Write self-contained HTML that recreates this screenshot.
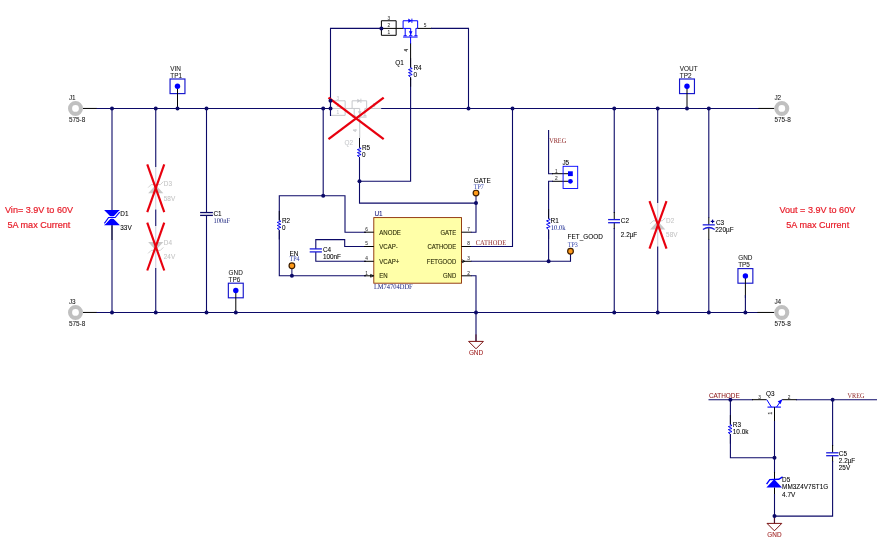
<!DOCTYPE html>
<html lang="en">
<head>
<meta charset="utf-8">
<title>LM74704 reverse polarity protection schematic</title>
<style>
html,body{margin:0;padding:0;background:#ffffff;}
body{width:880px;height:548px;overflow:hidden;}
svg{display:block;will-change:transform;}
.s{font-family:"Liberation Sans",sans-serif;}
.r{font-family:"Liberation Serif",serif;text-rendering:geometricPrecision;}
</style>
</head>
<body>
<svg width="880" height="548" viewBox="0 0 880 548">
<rect x="0" y="0" width="880" height="548" fill="#ffffff"/>
<line x1="83" y1="108.45" x2="97" y2="108.45" stroke="#000000" stroke-width="1.0" />
<line x1="96.5" y1="108.45" x2="330.5" y2="108.45" stroke="#0c0a68" stroke-width="1.1" />
<line x1="381" y1="108.45" x2="759" y2="108.45" stroke="#0c0a68" stroke-width="1.1" />
<line x1="758.5" y1="108.45" x2="774.3" y2="108.45" stroke="#000000" stroke-width="1.0" />
<line x1="83" y1="312.45" x2="97" y2="312.45" stroke="#000000" stroke-width="1.0" />
<line x1="96.5" y1="312.45" x2="758" y2="312.45" stroke="#0c0a68" stroke-width="1.1" />
<line x1="757.5" y1="312.45" x2="774.3" y2="312.45" stroke="#000000" stroke-width="1.0" />
<circle cx="75.5" cy="108.45" r="5.45" fill="none" stroke="#c0c0c0" stroke-width="4.1"/>
<text x="68.9" y="99.95" font-size="6.4" fill="#1a1a1a" stroke="#1a1a1a" stroke-width="0.07" class="s" text-anchor="start" >J1</text>
<text x="68.9" y="122.25" font-size="6.4" fill="#1a1a1a" stroke="#1a1a1a" stroke-width="0.07" class="s" text-anchor="start" >575-8</text>
<circle cx="75.5" cy="312.45" r="5.45" fill="none" stroke="#c0c0c0" stroke-width="4.1"/>
<text x="68.9" y="303.95" font-size="6.4" fill="#1a1a1a" stroke="#1a1a1a" stroke-width="0.07" class="s" text-anchor="start" >J3</text>
<text x="68.9" y="326.25" font-size="6.4" fill="#1a1a1a" stroke="#1a1a1a" stroke-width="0.07" class="s" text-anchor="start" >575-8</text>
<circle cx="781.8" cy="108.45" r="5.45" fill="none" stroke="#c0c0c0" stroke-width="4.1"/>
<text x="774.4" y="99.95" font-size="6.4" fill="#1a1a1a" stroke="#1a1a1a" stroke-width="0.07" class="s" text-anchor="start" >J2</text>
<text x="774.4" y="122.25" font-size="6.4" fill="#1a1a1a" stroke="#1a1a1a" stroke-width="0.07" class="s" text-anchor="start" >575-8</text>
<circle cx="781.8" cy="312.45" r="5.45" fill="none" stroke="#c0c0c0" stroke-width="4.1"/>
<text x="774.4" y="303.95" font-size="6.4" fill="#1a1a1a" stroke="#1a1a1a" stroke-width="0.07" class="s" text-anchor="start" >J4</text>
<text x="774.4" y="326.25" font-size="6.4" fill="#1a1a1a" stroke="#1a1a1a" stroke-width="0.07" class="s" text-anchor="start" >575-8</text>
<line x1="112" y1="108.45" x2="112" y2="312.45" stroke="#0c0a68" stroke-width="1.1" />
<line x1="112" y1="225.2" x2="112" y2="240" stroke="#202040" stroke-width="1.1" />
<polygon points="104.1,210.1 119.9,210.1 112,217.9" fill="#0000ff"/>
<polygon points="104.1,225.3 119.9,225.3 112,217.3" fill="#0000ff"/>
<polyline points="104.4,223.4 108.6,217.5 115.2,217.5 119.7,212.2" stroke="#ffffff" stroke-width="2.6" fill="none"/>
<polyline points="104.4,223.4 108.6,217.5 115.2,217.5 119.7,212.2" stroke="#0000ff" stroke-width="1.1" fill="none"/>
<text x="120.3" y="215.8" font-size="6.4" fill="#000000" stroke="#000000" stroke-width="0.07" class="s" text-anchor="start" >D1</text>
<text x="120.3" y="230.3" font-size="6.4" fill="#000000" stroke="#000000" stroke-width="0.07" class="s" text-anchor="start" >33V</text>
<line x1="155.75" y1="108.45" x2="155.75" y2="167" stroke="#0c0a68" stroke-width="1.1" />
<line x1="155.75" y1="167" x2="155.75" y2="209.5" stroke="#d0d0e0" stroke-width="1.1" />
<line x1="155.75" y1="209.5" x2="155.75" y2="226" stroke="#0c0a68" stroke-width="1.1" />
<line x1="155.75" y1="226" x2="155.75" y2="268" stroke="#d0d0e0" stroke-width="1.1" />
<line x1="155.75" y1="268" x2="155.75" y2="312.45" stroke="#0c0a68" stroke-width="1.1" />
<polygon points="148.15,193.3 163.35,193.3 155.75,185" fill="#c8c8c8"/>
<polyline points="148.15,187.6 151.15,184.6 160.35,184.6 163.35,181.6" stroke="#c8c8c8" stroke-width="0.9" fill="none" />
<text x="163.8" y="185.9" font-size="6.4" fill="#c4c4c4" stroke="#c4c4c4" stroke-width="0.07" class="s" text-anchor="start" >D3</text>
<text x="163.8" y="201" font-size="6.4" fill="#c4c4c4" stroke="#c4c4c4" stroke-width="0.07" class="s" text-anchor="start" >58V</text>
<polygon points="148.15,242 163.35,242 155.75,250.2" fill="#c8c8c8"/>
<polyline points="148.15,253.4 151.15,250.4 160.35,250.4 163.35,247.4" stroke="#c8c8c8" stroke-width="0.9" fill="none" />
<text x="163.8" y="244.7" font-size="6.4" fill="#c4c4c4" stroke="#c4c4c4" stroke-width="0.07" class="s" text-anchor="start" >D4</text>
<text x="163.8" y="258.5" font-size="6.4" fill="#c4c4c4" stroke="#c4c4c4" stroke-width="0.07" class="s" text-anchor="start" >24V</text>
<line x1="147.25" y1="164.4" x2="164.25" y2="212.20000000000002" stroke="#e8000e" stroke-width="2.15" stroke-linecap="butt"/>
<line x1="164.25" y1="164.4" x2="147.25" y2="212.20000000000002" stroke="#e8000e" stroke-width="2.15" stroke-linecap="butt"/>
<line x1="147.25" y1="222.7" x2="164.25" y2="270.5" stroke="#e8000e" stroke-width="2.15" stroke-linecap="butt"/>
<line x1="164.25" y1="222.7" x2="147.25" y2="270.5" stroke="#e8000e" stroke-width="2.15" stroke-linecap="butt"/>
<line x1="206.5" y1="108.45" x2="206.5" y2="212.6" stroke="#0c0a68" stroke-width="1.1" />
<line x1="206.5" y1="215.3" x2="206.5" y2="312.45" stroke="#0c0a68" stroke-width="1.1" />
<line x1="200.1" y1="212.55" x2="212.9" y2="212.55" stroke="#0c0a68" stroke-width="1.3" />
<line x1="200.1" y1="215.4" x2="212.9" y2="215.4" stroke="#0c0a68" stroke-width="1.3" />
<text x="213.4" y="215.9" font-size="6.4" fill="#000000" stroke="#000000" stroke-width="0.07" class="s" text-anchor="start" >C1</text>
<text x="213.4" y="222.8" font-size="7.3" fill="#18207c" stroke="#18207c" stroke-width="0" class="r" text-anchor="start" textLength="16.6" lengthAdjust="spacingAndGlyphs">100nF</text>
<rect x="170.05" y="79.0" width="14.9" height="14.6" fill="none" stroke="#1616cc" stroke-width="1.15"/>
<line x1="177.5" y1="86.3" x2="177.5" y2="108.3" stroke="#000000" stroke-width="1.0" />
<circle cx="177.5" cy="86.3" r="2.7" fill="#0000ff"/>
<text x="170.3" y="70.7" font-size="6.4" fill="#1a1a1a" stroke="#1a1a1a" stroke-width="0.07" class="s" text-anchor="start" >VIN</text>
<text x="170.3" y="77.6" font-size="6.4" fill="#1a1a1a" stroke="#1a1a1a" stroke-width="0.07" class="s" text-anchor="start" >TP1</text>
<rect x="679.55" y="79.0" width="14.9" height="14.6" fill="none" stroke="#1616cc" stroke-width="1.15"/>
<line x1="687" y1="86.3" x2="687" y2="108.3" stroke="#000000" stroke-width="1.0" />
<circle cx="687" cy="86.3" r="2.7" fill="#0000ff"/>
<text x="679.8" y="70.7" font-size="6.4" fill="#1a1a1a" stroke="#1a1a1a" stroke-width="0.07" class="s" text-anchor="start" >VOUT</text>
<text x="679.8" y="77.6" font-size="6.4" fill="#1a1a1a" stroke="#1a1a1a" stroke-width="0.07" class="s" text-anchor="start" >TP2</text>
<rect x="228.35" y="283.2" width="14.9" height="14.6" fill="none" stroke="#1616cc" stroke-width="1.15"/>
<line x1="235.8" y1="290.5" x2="235.8" y2="312.5" stroke="#000000" stroke-width="1.0" />
<circle cx="235.8" cy="290.5" r="2.7" fill="#0000ff"/>
<text x="228.6" y="274.9" font-size="6.4" fill="#1a1a1a" stroke="#1a1a1a" stroke-width="0.07" class="s" text-anchor="start" >GND</text>
<text x="228.6" y="281.8" font-size="6.4" fill="#1a1a1a" stroke="#1a1a1a" stroke-width="0.07" class="s" text-anchor="start" >TP6</text>
<rect x="737.95" y="268.6" width="14.9" height="14.6" fill="none" stroke="#1616cc" stroke-width="1.15"/>
<line x1="745.4" y1="275.9" x2="745.4" y2="297.9" stroke="#000000" stroke-width="1.0" />
<circle cx="745.4" cy="275.9" r="2.7" fill="#0000ff"/>
<text x="738.2" y="260.3" font-size="6.4" fill="#1a1a1a" stroke="#1a1a1a" stroke-width="0.07" class="s" text-anchor="start" >GND</text>
<text x="738.2" y="267.2" font-size="6.4" fill="#1a1a1a" stroke="#1a1a1a" stroke-width="0.07" class="s" text-anchor="start" >TP5</text>
<line x1="745.4" y1="295" x2="745.4" y2="312.45" stroke="#0c0a68" stroke-width="1.1" />
<line x1="323.2" y1="108.45" x2="323.2" y2="195.8" stroke="#0c0a68" stroke-width="1.1" />
<polyline points="279.3,220.2 279.3,195.8 345,195.8 345,232.2 366,232.2" stroke="#0c0a68" stroke-width="1.1" fill="none" />
<line x1="330.4" y1="100.8" x2="345.15" y2="100.8" stroke="#c6c8cc" stroke-width="1.0" />
<line x1="330.4" y1="108.45" x2="345.15" y2="108.45" stroke="#c6c8cc" stroke-width="1.0" />
<line x1="330.4" y1="115.35" x2="345.15" y2="115.35" stroke="#c6c8cc" stroke-width="1.0" />
<line x1="330.4" y1="100.8" x2="330.4" y2="115.35" stroke="#c6c8cc" stroke-width="1.0" />
<line x1="345.15" y1="100.8" x2="345.15" y2="115.35" stroke="#c6c8cc" stroke-width="1.0" />
<line x1="345.15" y1="108.45" x2="352.1" y2="108.45" stroke="#c6c8cc" stroke-width="1.0" />
<text x="337.9" y="100.35" font-size="4.8" fill="#c6c8cc" stroke="#c6c8cc" stroke-width="0.05" class="s" text-anchor="middle" >3</text>
<text x="337.9" y="107.15" font-size="4.8" fill="#c6c8cc" stroke="#c6c8cc" stroke-width="0.05" class="s" text-anchor="middle" >2</text>
<text x="337.9" y="113.75" font-size="4.8" fill="#c6c8cc" stroke="#c6c8cc" stroke-width="0.05" class="s" text-anchor="middle" >1</text>
<polyline points="352.1,108.45 352.1,100.8 366.65,100.8 366.65,108.45" stroke="#c6c8cc" stroke-width="1.0" fill="none" />
<polyline points="352.1,108.45 359.7,108.45 359.7,115.75" stroke="#c6c8cc" stroke-width="1.0" fill="none" />
<line x1="354.2" y1="108.45" x2="354.2" y2="115.95" stroke="#c6c8cc" stroke-width="1.0" />
<line x1="364.9" y1="108.45" x2="364.9" y2="115.95" stroke="#c6c8cc" stroke-width="1.0" />
<line x1="364.9" y1="108.45" x2="366.65" y2="108.45" stroke="#c6c8cc" stroke-width="1.0" />
<line x1="352.6" y1="115.8" x2="355.8" y2="115.8" stroke="#c6c8cc" stroke-width="1.0" />
<line x1="358" y1="115.8" x2="361.4" y2="115.8" stroke="#c6c8cc" stroke-width="1.0" />
<line x1="363.3" y1="115.8" x2="366.5" y2="115.8" stroke="#c6c8cc" stroke-width="1.0" />
<line x1="352.1" y1="117.1" x2="366.6" y2="117.1" stroke="#c6c8cc" stroke-width="1.0" />
<polygon points="359.7,114.95 357.9,111.35 361.5,111.35" fill="#c6c8cc"/>
<polygon points="357.3,98.65 357.3,102.95 360.6,100.8" fill="#c6c8cc"/>
<line x1="360.9" y1="98.65" x2="360.9" y2="102.95" stroke="#c6c8cc" stroke-width="0.9" />
<text x="374.1" y="106.75" font-size="4.8" fill="#c6c8cc" stroke="#c6c8cc" stroke-width="0.05" class="s" text-anchor="middle" >5</text>
<line x1="366.6" y1="108.45" x2="381.2" y2="108.45" stroke="#c6c8cc" stroke-width="1.1" />
<line x1="359.7" y1="117.1" x2="359.7" y2="138" stroke="#c6c8cc" stroke-width="1.1" />
<text x="355.4" y="131.7" font-size="4.6" fill="#c6c8cc" stroke="#c6c8cc" stroke-width="0.2" class="s" text-anchor="middle" transform="rotate(-90 355.4 130.4)">4</text>
<text x="344.6" y="144.7" font-size="6.4" fill="#c6c8cc" stroke="#c6c8cc" stroke-width="0.07" class="s" text-anchor="start" >Q2</text>
<polyline points="381.4,28.4 330.5,28.4 330.5,115.9" stroke="#0c0a68" stroke-width="1.1" fill="none" />
<line x1="328.5" y1="97.60000000000001" x2="383.70000000000005" y2="139.20000000000002" stroke="#e8000e" stroke-width="2.3" stroke-linecap="butt"/>
<line x1="383.70000000000005" y1="97.60000000000001" x2="328.5" y2="139.20000000000002" stroke="#e8000e" stroke-width="2.3" stroke-linecap="butt"/>
<line x1="359.5" y1="138" x2="359.5" y2="147.3" stroke="#000000" stroke-width="1.0" />
<line x1="359.5" y1="138.1" x2="359.5" y2="147.79999999999998" stroke="#0a0a20" stroke-width="1.0" />
<line x1="359.5" y1="157.0" x2="359.5" y2="166.7" stroke="#0a0a20" stroke-width="1.0" />
<polyline points="359.5,147.6 361.1,148.5 357.4,149.6 361.1,151.5 357.4,152.6 361.1,154.6 357.4,155.6 359.5,157.2" stroke="#0808f0" stroke-width="1.0" fill="none" stroke-linejoin="round"/>
<polyline points="359.5,157.8 359.5,203.1 476,203.1" stroke="#0c0a68" stroke-width="1.1" fill="none" />
<polyline points="359.5,181.3 410.6,181.3 410.6,79" stroke="#0c0a68" stroke-width="1.1" fill="none" />
<text x="362" y="150.1" font-size="6.4" fill="#000000" stroke="#000000" stroke-width="0.07" class="s" text-anchor="start" >R5</text>
<text x="362" y="157.3" font-size="6.4" fill="#000000" stroke="#000000" stroke-width="0.07" class="s" text-anchor="start" >0</text>
<line x1="381.4" y1="20.75" x2="396.15" y2="20.75" stroke="#000000" stroke-width="1.0" />
<line x1="381.4" y1="28.4" x2="396.15" y2="28.4" stroke="#000000" stroke-width="1.0" />
<line x1="381.4" y1="35.3" x2="396.15" y2="35.3" stroke="#000000" stroke-width="1.0" />
<line x1="381.4" y1="20.75" x2="381.4" y2="35.3" stroke="#000000" stroke-width="1.0" />
<line x1="396.15" y1="20.75" x2="396.15" y2="35.3" stroke="#000000" stroke-width="1.0" />
<line x1="396.15" y1="28.4" x2="403.1" y2="28.4" stroke="#000000" stroke-width="1.0" />
<text x="388.9" y="20.3" font-size="4.8" fill="#333333" stroke="#333333" stroke-width="0.05" class="s" text-anchor="middle" >3</text>
<text x="388.9" y="27.1" font-size="4.8" fill="#333333" stroke="#333333" stroke-width="0.05" class="s" text-anchor="middle" >2</text>
<text x="388.9" y="33.7" font-size="4.8" fill="#333333" stroke="#333333" stroke-width="0.05" class="s" text-anchor="middle" >1</text>
<polyline points="403.1,28.4 403.1,20.75 417.65,20.75 417.65,28.4" stroke="#0000ff" stroke-width="1.0" fill="none" />
<polyline points="403.1,28.4 410.7,28.4 410.7,35.7" stroke="#0000ff" stroke-width="1.0" fill="none" />
<line x1="405.2" y1="28.4" x2="405.2" y2="35.9" stroke="#0000ff" stroke-width="1.0" />
<line x1="415.9" y1="28.4" x2="415.9" y2="35.9" stroke="#0000ff" stroke-width="1.0" />
<line x1="415.9" y1="28.4" x2="417.65" y2="28.4" stroke="#0000ff" stroke-width="1.0" />
<line x1="403.6" y1="35.75" x2="406.8" y2="35.75" stroke="#0000ff" stroke-width="1.0" />
<line x1="409" y1="35.75" x2="412.4" y2="35.75" stroke="#0000ff" stroke-width="1.0" />
<line x1="414.3" y1="35.75" x2="417.5" y2="35.75" stroke="#0000ff" stroke-width="1.0" />
<line x1="403.1" y1="37.05" x2="417.6" y2="37.05" stroke="#0000ff" stroke-width="1.0" />
<polygon points="410.7,34.9 408.9,31.3 412.5,31.3" fill="#0000ff"/>
<polygon points="408.3,18.6 408.3,22.9 411.6,20.75" fill="#0000ff"/>
<line x1="411.9" y1="18.6" x2="411.9" y2="22.9" stroke="#0000ff" stroke-width="0.9" />
<text x="425.1" y="26.7" font-size="4.8" fill="#333333" stroke="#333333" stroke-width="0.05" class="s" text-anchor="middle" >5</text>
<line x1="417.65" y1="28.4" x2="432" y2="28.4" stroke="#000000" stroke-width="1.0" />
<polyline points="431,28.4 468.5,28.4 468.5,108.45" stroke="#0c0a68" stroke-width="1.1" fill="none" />
<line x1="410.6" y1="37" x2="410.6" y2="44" stroke="#0000ff" stroke-width="1.0" />
<line x1="410.6" y1="43.5" x2="410.6" y2="67.3" stroke="#000000" stroke-width="1.0" />
<text x="406.4" y="51.6" font-size="4.6" fill="#444" stroke="#444" stroke-width="0.2" class="s" text-anchor="middle" transform="rotate(-90 406.4 50.3)">4</text>
<line x1="410.6" y1="58.099999999999994" x2="410.6" y2="67.8" stroke="#0a0a20" stroke-width="1.0" />
<line x1="410.6" y1="76.99999999999999" x2="410.6" y2="86.69999999999999" stroke="#0a0a20" stroke-width="1.0" />
<polyline points="410.6,67.6 412.2,68.5 408.5,69.6 412.2,71.5 408.5,72.6 412.2,74.6 408.5,75.6 410.6,77.2" stroke="#0808f0" stroke-width="1.0" fill="none" stroke-linejoin="round"/>
<line x1="410.6" y1="77.8" x2="410.6" y2="80" stroke="#000000" stroke-width="1.0" />
<text x="395.2" y="64.8" font-size="6.4" fill="#000000" stroke="#000000" stroke-width="0.07" class="s" text-anchor="start" >Q1</text>
<text x="413.4" y="69.5" font-size="6.4" fill="#000000" stroke="#000000" stroke-width="0.07" class="s" text-anchor="start" >R4</text>
<text x="413.4" y="76.8" font-size="6.4" fill="#000000" stroke="#000000" stroke-width="0.07" class="s" text-anchor="start" >0</text>
<line x1="279.3" y1="210.9" x2="279.3" y2="220.6" stroke="#0a0a20" stroke-width="1.0" />
<line x1="279.3" y1="229.8" x2="279.3" y2="239.5" stroke="#0a0a20" stroke-width="1.0" />
<polyline points="279.3,220.4 280.9,221.3 277.2,222.4 280.9,224.3 277.2,225.4 280.9,227.4 277.2,228.4 279.3,230.0" stroke="#0808f0" stroke-width="1.0" fill="none" stroke-linejoin="round"/>
<polyline points="279.3,230.6 279.3,275.8 366,275.8" stroke="#0c0a68" stroke-width="1.1" fill="none" />
<text x="282" y="222.8" font-size="6.4" fill="#000000" stroke="#000000" stroke-width="0.07" class="s" text-anchor="start" >R2</text>
<text x="282" y="229.7" font-size="6.4" fill="#000000" stroke="#000000" stroke-width="0.07" class="s" text-anchor="start" >0</text>
<line x1="291.9" y1="265.7" x2="291.9" y2="275.8" stroke="#0c0a68" stroke-width="1.0" />
<circle cx="291.9" cy="265.7" r="2.85" fill="#ff9a1a" stroke="#402000" stroke-width="1.2"/>
<text x="289.6" y="255.5" font-size="6.4" fill="#000000" stroke="#000000" stroke-width="0.07" class="s" text-anchor="start" >EN</text>
<text x="289.6" y="260.8" font-size="7.3" fill="#2c3ca8" stroke="#2c3ca8" stroke-width="0" class="r" text-anchor="start" textLength="10" lengthAdjust="spacingAndGlyphs">TP4</text>
<polyline points="315.8,248.9 315.8,239.6 344.7,239.6 344.7,246.5 366,246.5" stroke="#0c0a68" stroke-width="1.1" fill="none" />
<polyline points="315.8,251.9 315.8,261.3 366,261.3" stroke="#0c0a68" stroke-width="1.1" fill="none" />
<line x1="309.7" y1="248.9" x2="321.9" y2="248.9" stroke="#1c1cdc" stroke-width="1.3" />
<line x1="309.7" y1="251.9" x2="321.9" y2="251.9" stroke="#1c1cdc" stroke-width="1.3" />
<text x="322.9" y="251.7" font-size="6.4" fill="#000000" stroke="#000000" stroke-width="0.07" class="s" text-anchor="start" >C4</text>
<text x="322.9" y="258.9" font-size="6.4" fill="#000000" stroke="#000000" stroke-width="0.07" class="s" text-anchor="start" >100nF</text>
<rect x="373.8" y="217.6" width="87.7" height="65.6" fill="#ffffa8" stroke="#8b2a00" stroke-width="0.9"/>
<line x1="364" y1="232.2" x2="373.8" y2="232.2" stroke="#000000" stroke-width="1.0" />
<text x="366.6" y="231.1" font-size="4.8" fill="#333" stroke="#333" stroke-width="0.05" class="s" text-anchor="middle" >6</text>
<text transform="translate(379.2,234.75) scale(0.885,1)" font-size="6.9" fill="#2c2c08" stroke="#2c2c08" stroke-width="0.1" class="s">ANODE</text>
<line x1="364" y1="246.5" x2="373.8" y2="246.5" stroke="#000000" stroke-width="1.0" />
<text x="366.6" y="245.4" font-size="4.8" fill="#333" stroke="#333" stroke-width="0.05" class="s" text-anchor="middle" >5</text>
<text transform="translate(379.2,249.05) scale(0.885,1)" font-size="6.9" fill="#2c2c08" stroke="#2c2c08" stroke-width="0.1" class="s">VCAP-</text>
<line x1="364" y1="261.3" x2="373.8" y2="261.3" stroke="#000000" stroke-width="1.0" />
<text x="366.6" y="260.2" font-size="4.8" fill="#333" stroke="#333" stroke-width="0.05" class="s" text-anchor="middle" >4</text>
<text transform="translate(379.2,263.85) scale(0.885,1)" font-size="6.9" fill="#2c2c08" stroke="#2c2c08" stroke-width="0.1" class="s">VCAP+</text>
<line x1="364" y1="275.8" x2="373.8" y2="275.8" stroke="#000000" stroke-width="1.0" />
<text x="366.6" y="274.7" font-size="4.8" fill="#333" stroke="#333" stroke-width="0.05" class="s" text-anchor="middle" >1</text>
<text transform="translate(379.2,278.35) scale(0.885,1)" font-size="6.9" fill="#2c2c08" stroke="#2c2c08" stroke-width="0.1" class="s">EN</text>
<line x1="461.5" y1="232.2" x2="471.5" y2="232.2" stroke="#000000" stroke-width="1.0" />
<text x="468.6" y="231.1" font-size="4.8" fill="#333" stroke="#333" stroke-width="0.05" class="s" text-anchor="middle" >7</text>
<text transform="translate(456.2,234.75) scale(0.865,1)" font-size="6.9" fill="#2c2c08" stroke="#2c2c08" stroke-width="0.1" class="s" text-anchor="end">GATE</text>
<line x1="461.5" y1="246.5" x2="471.5" y2="246.5" stroke="#000000" stroke-width="1.0" />
<text x="468.6" y="245.4" font-size="4.8" fill="#333" stroke="#333" stroke-width="0.05" class="s" text-anchor="middle" >8</text>
<text transform="translate(456.2,249.05) scale(0.865,1)" font-size="6.9" fill="#2c2c08" stroke="#2c2c08" stroke-width="0.1" class="s" text-anchor="end">CATHODE</text>
<line x1="461.5" y1="261.3" x2="471.5" y2="261.3" stroke="#000000" stroke-width="1.0" />
<text x="468.6" y="260.2" font-size="4.8" fill="#333" stroke="#333" stroke-width="0.05" class="s" text-anchor="middle" >3</text>
<text transform="translate(456.2,263.85) scale(0.865,1)" font-size="6.9" fill="#2c2c08" stroke="#2c2c08" stroke-width="0.1" class="s" text-anchor="end">FETGOOD</text>
<line x1="461.5" y1="275.8" x2="471.5" y2="275.8" stroke="#000000" stroke-width="1.0" />
<text x="468.6" y="274.7" font-size="4.8" fill="#333" stroke="#333" stroke-width="0.05" class="s" text-anchor="middle" >2</text>
<text transform="translate(456.2,278.35) scale(0.865,1)" font-size="6.9" fill="#2c2c08" stroke="#2c2c08" stroke-width="0.1" class="s" text-anchor="end">GND</text>
<polygon points="370.6,274.4 373.6,275.8 370.6,277.2" fill="none" stroke="#000000" stroke-width="0.8"/>
<polyline points="461.9,259.7 464.9,261.3 461.9,262.9" fill="none" stroke="#000000" stroke-width="0.8"/>
<text x="374.5" y="216.1" font-size="6.4" fill="#18187c" stroke="#18187c" stroke-width="0.07" class="s" text-anchor="start" >U1</text>
<text x="373.9" y="288.8" font-size="7.3" fill="#18207c" stroke="#18207c" stroke-width="0" class="r" text-anchor="start" textLength="38.8" lengthAdjust="spacingAndGlyphs">LM74704DDF</text>
<polyline points="471,232.2 476,232.2 476,203.1" stroke="#0c0a68" stroke-width="1.1" fill="none" />
<line x1="476" y1="193.1" x2="476" y2="203.1" stroke="#0c0a68" stroke-width="1.0" />
<circle cx="476" cy="193.1" r="2.85" fill="#ff9a1a" stroke="#402000" stroke-width="1.2"/>
<circle cx="476" cy="203.1" r="2.0" fill="#0c0a68"/>
<text x="473.8" y="183.1" font-size="6.4" fill="#000000" stroke="#000000" stroke-width="0.07" class="s" text-anchor="start" >GATE</text>
<text x="473.8" y="188.7" font-size="7.3" fill="#2c3ca8" stroke="#2c3ca8" stroke-width="0" class="r" text-anchor="start" textLength="10" lengthAdjust="spacingAndGlyphs">TP7</text>
<polyline points="471,246.5 512.5,246.5 512.5,108.45" stroke="#0c0a68" stroke-width="1.1" fill="none" />
<text x="475.7" y="245" font-size="7.3" fill="#902424" stroke="#902424" stroke-width="0" class="r" text-anchor="start" textLength="30.5" lengthAdjust="spacingAndGlyphs">CATHODE</text>
<polyline points="471,261.3 570.5,261.3 570.5,251.3" stroke="#0c0a68" stroke-width="1.1" fill="none" />
<line x1="570.5" y1="251.3" x2="570.5" y2="261.3" stroke="#0c0a68" stroke-width="1.0" />
<circle cx="570.5" cy="251.3" r="2.85" fill="#ff9a1a" stroke="#402000" stroke-width="1.2"/>
<text x="567.6" y="239" font-size="6.4" fill="#000000" stroke="#000000" stroke-width="0.07" class="s" text-anchor="start" >FET_GOOD</text>
<text x="567.8" y="247" font-size="7.3" fill="#2c3ca8" stroke="#2c3ca8" stroke-width="0" class="r" text-anchor="start" textLength="10" lengthAdjust="spacingAndGlyphs">TP3</text>
<polyline points="471,275.8 476,275.8 476,341" stroke="#0c0a68" stroke-width="1.1" fill="none" />
<line x1="476" y1="334.4" x2="476" y2="341.4" stroke="#5a1420" stroke-width="1.0" />
<polyline points="468.6,341.4 483.4,341.4 476,348.8 468.6,341.4" stroke="#7a1212" stroke-width="1.0" fill="none" />
<text x="476" y="354.9" font-size="6.4" fill="#a02020" stroke="#a02020" stroke-width="0.07" class="s" text-anchor="middle" >GND</text>
<polyline points="548.6,130 548.6,173.7 553,173.7" stroke="#0c0a68" stroke-width="1.1" fill="none" />
<line x1="552" y1="173.7" x2="568" y2="173.7" stroke="#000000" stroke-width="1.0" />
<line x1="552" y1="181.3" x2="568" y2="181.3" stroke="#000000" stroke-width="1.0" />
<polyline points="553,181.3 548.6,181.3 548.6,218.7" stroke="#0c0a68" stroke-width="1.1" fill="none" />
<line x1="548.6" y1="209.0" x2="548.6" y2="218.7" stroke="#0a0a20" stroke-width="1.0" />
<line x1="548.6" y1="229.5" x2="548.6" y2="239.2" stroke="#0a0a20" stroke-width="1.0" />
<polyline points="548.6,218.5 550.2,219.55 546.5,220.83 550.2,223.05 546.5,224.33 550.2,226.67 546.5,227.83 548.6,229.7" stroke="#0808f0" stroke-width="1.0" fill="none" stroke-linejoin="round"/>
<line x1="548.6" y1="230" x2="548.6" y2="261.3" stroke="#0c0a68" stroke-width="1.1" />
<rect x="563.1" y="166.3" width="14.6" height="22.2" fill="none" stroke="#0000ff" stroke-width="0.9"/>
<rect x="568" y="171.3" width="4.8" height="4.8" fill="#0000ff"/>
<circle cx="570.4" cy="181.3" r="2.4" fill="#0000ff"/>
<text x="556.3" y="172.6" font-size="4.8" fill="#333" stroke="#333" stroke-width="0.05" class="s" text-anchor="middle" >1</text>
<text x="556.3" y="180.2" font-size="4.8" fill="#333" stroke="#333" stroke-width="0.05" class="s" text-anchor="middle" >2</text>
<text x="562.4" y="164.5" font-size="6.4" fill="#000000" stroke="#000000" stroke-width="0.07" class="s" text-anchor="start" >J5</text>
<text x="549.2" y="142.9" font-size="7.3" fill="#8c2020" stroke="#8c2020" stroke-width="0" class="r" text-anchor="start" textLength="17" lengthAdjust="spacingAndGlyphs">VREG</text>
<text x="550.6" y="222.8" font-size="6.4" fill="#000000" stroke="#000000" stroke-width="0.07" class="s" text-anchor="start" >R1</text>
<text x="550.7" y="230" font-size="7.3" fill="#10208c" stroke="#10208c" stroke-width="0" class="r" text-anchor="start" textLength="15" lengthAdjust="spacingAndGlyphs">10.0k</text>
<line x1="614.25" y1="108.45" x2="614.25" y2="213" stroke="#0c0a68" stroke-width="1.1" />
<line x1="614.25" y1="212" x2="614.25" y2="219.6" stroke="#000000" stroke-width="1.0" />
<line x1="614.25" y1="222.7" x2="614.25" y2="229" stroke="#000000" stroke-width="1.0" />
<line x1="614.25" y1="228" x2="614.25" y2="312.45" stroke="#0c0a68" stroke-width="1.1" />
<line x1="608.1" y1="219.6" x2="620.0" y2="219.6" stroke="#1c1cdc" stroke-width="1.3" />
<line x1="608.1" y1="222.7" x2="620.0" y2="222.7" stroke="#1c1cdc" stroke-width="1.3" />
<text x="620.8" y="222.7" font-size="6.4" fill="#000000" stroke="#000000" stroke-width="0.07" class="s" text-anchor="start" >C2</text>
<text x="620.8" y="237" font-size="6.4" fill="#000000" stroke="#000000" stroke-width="0.07" class="s" text-anchor="start" >2.2µF</text>
<line x1="657.7" y1="108.45" x2="657.7" y2="203" stroke="#0c0a68" stroke-width="1.1" />
<line x1="657.7" y1="203" x2="657.7" y2="246.5" stroke="#d0d0e0" stroke-width="1.1" />
<line x1="657.7" y1="246.5" x2="657.7" y2="312.45" stroke="#0c0a68" stroke-width="1.1" />
<polygon points="650.1,229.4 665.3000000000001,229.4 657.7,221" fill="#c8c8c8"/>
<polyline points="650.1,223.8 653.1,220.8 662.3000000000001,220.8 665.3000000000001,217.8" stroke="#c8c8c8" stroke-width="0.9" fill="none" />
<text x="666.1" y="222.7" font-size="6.4" fill="#c4c4c4" stroke="#c4c4c4" stroke-width="0.07" class="s" text-anchor="start" >D2</text>
<text x="666.1" y="237" font-size="6.4" fill="#c4c4c4" stroke="#c4c4c4" stroke-width="0.07" class="s" text-anchor="start" >58V</text>
<line x1="649.5" y1="201.1" x2="666.5" y2="248.70000000000002" stroke="#e8000e" stroke-width="2.15" stroke-linecap="butt"/>
<line x1="666.5" y1="201.1" x2="649.5" y2="248.70000000000002" stroke="#e8000e" stroke-width="2.15" stroke-linecap="butt"/>
<line x1="708.8" y1="108.45" x2="708.8" y2="218" stroke="#0c0a68" stroke-width="1.1" />
<line x1="708.8" y1="217.5" x2="708.8" y2="224.9" stroke="#000000" stroke-width="1.0" />
<line x1="708.8" y1="227.5" x2="708.8" y2="240" stroke="#000000" stroke-width="1.0" />
<line x1="708.8" y1="239.5" x2="708.8" y2="312.45" stroke="#0c0a68" stroke-width="1.1" />
<line x1="702.7" y1="224.85" x2="714.8" y2="224.85" stroke="#1c1cdc" stroke-width="1.3" />
<path d="M702.9,229.5 Q708.8,225.5 714.7,229.5" fill="none" stroke="#1c1cdc" stroke-width="1.25"/>
<line x1="710.75" y1="221.4" x2="714.35" y2="221.4" stroke="#000090" stroke-width="1.2" />
<line x1="712.55" y1="219.6" x2="712.55" y2="223.2" stroke="#000090" stroke-width="1.2" />
<text x="716" y="225" font-size="6.4" fill="#000000" stroke="#000000" stroke-width="0.07" class="s" text-anchor="start" >C3</text>
<text x="715.3" y="231.6" font-size="6.4" fill="#000000" stroke="#000000" stroke-width="0.07" class="s" text-anchor="start" >220µF</text>
<line x1="708.5" y1="399.7" x2="753" y2="399.7" stroke="#0c0a68" stroke-width="1.1" />
<line x1="752" y1="399.7" x2="766.6" y2="399.7" stroke="#000000" stroke-width="1.0" />
<line x1="782.1" y1="399.7" x2="797" y2="399.7" stroke="#000000" stroke-width="1.0" />
<line x1="796" y1="399.7" x2="877" y2="399.7" stroke="#0c0a68" stroke-width="1.1" />
<text x="708.9" y="397.8" font-size="6.4" fill="#902020" stroke="#902020" stroke-width="0.07" class="s" text-anchor="start" >CATHODE</text>
<text x="847.5" y="397.5" font-size="7.3" fill="#8c2020" stroke="#8c2020" stroke-width="0" class="r" text-anchor="start" textLength="17" lengthAdjust="spacingAndGlyphs">VREG</text>
<text x="766.1" y="396.1" font-size="6.4" fill="#000000" stroke="#000000" stroke-width="0.07" class="s" text-anchor="start" >Q3</text>
<text x="759.5" y="398.6" font-size="4.8" fill="#333" stroke="#333" stroke-width="0.05" class="s" text-anchor="middle" >3</text>
<text x="789" y="398.6" font-size="4.8" fill="#333" stroke="#333" stroke-width="0.05" class="s" text-anchor="middle" >2</text>
<line x1="766.8" y1="399.7" x2="771.4" y2="407.1" stroke="#0000ff" stroke-width="1.0" />
<line x1="767.5" y1="407.1" x2="780.9" y2="407.1" stroke="#0000ff" stroke-width="1.1" />
<line x1="776.6" y1="407.1" x2="781.6" y2="399.7" stroke="#0000ff" stroke-width="1.0" />
<polygon points="782.4,399.4 777.7,401.2 780.4,404.2" fill="#0000ff"/>
<line x1="774.5" y1="407.1" x2="774.5" y2="422" stroke="#000000" stroke-width="1.0" />
<text x="771" y="414.4" font-size="4.6" fill="#444" stroke="#444" stroke-width="0.2" class="s" text-anchor="middle" transform="rotate(-90 771 413.1)">1</text>
<line x1="774.5" y1="421" x2="774.5" y2="473" stroke="#0c0a68" stroke-width="1.1" />
<line x1="774.5" y1="472" x2="774.5" y2="479.2" stroke="#000000" stroke-width="1.0" />
<line x1="774.5" y1="487.4" x2="774.5" y2="495" stroke="#000000" stroke-width="1.0" />
<line x1="774.5" y1="494" x2="774.5" y2="523.2" stroke="#0c0a68" stroke-width="1.1" />
<line x1="730.4" y1="399.7" x2="730.4" y2="424.5" stroke="#0c0a68" stroke-width="1.1" />
<line x1="730.4" y1="415.1" x2="730.4" y2="424.8" stroke="#0a0a20" stroke-width="1.0" />
<line x1="730.4" y1="434.00000000000006" x2="730.4" y2="443.70000000000005" stroke="#0a0a20" stroke-width="1.0" />
<polyline points="730.4,424.6 732.0,425.5 728.3,426.6 732.0,428.5 728.3,429.6 732.0,431.6 728.3,432.6 730.4,434.2" stroke="#0808f0" stroke-width="1.0" fill="none" stroke-linejoin="round"/>
<polyline points="730.4,434.3 730.4,457.8 774.5,457.8" stroke="#0c0a68" stroke-width="1.1" fill="none" />
<text x="732.8" y="426.6" font-size="6.4" fill="#000000" stroke="#000000" stroke-width="0.07" class="s" text-anchor="start" >R3</text>
<text x="732.8" y="433.5" font-size="6.4" fill="#000000" stroke="#000000" stroke-width="0.07" class="s" text-anchor="start" >10.0k</text>
<polygon points="766.4,487.4 782,487.4 774.2,479.2" fill="#0000ff"/>
<polyline points="766.6,484.2 769.8,479.6 778.8,479.3 782.6,476.8" stroke="#0000ff" stroke-width="1.4" fill="none" />
<text x="782.1" y="481.6" font-size="6.4" fill="#000000" stroke="#000000" stroke-width="0.07" class="s" text-anchor="start" >D5</text>
<text x="782.1" y="488.8" font-size="6.4" fill="#000000" stroke="#000000" stroke-width="0.07" class="s" text-anchor="start" >MM3Z4V7ST1G</text>
<text x="782.1" y="496.8" font-size="6.4" fill="#000000" stroke="#000000" stroke-width="0.07" class="s" text-anchor="start" >4.7V</text>
<line x1="832.6" y1="399.7" x2="832.6" y2="446" stroke="#0c0a68" stroke-width="1.1" />
<line x1="832.6" y1="445" x2="832.6" y2="452.6" stroke="#000000" stroke-width="1.0" />
<line x1="832.6" y1="455.7" x2="832.6" y2="462" stroke="#000000" stroke-width="1.0" />
<polyline points="832.6,461 832.6,516.1 774.5,516.1" stroke="#0c0a68" stroke-width="1.1" fill="none" />
<line x1="826.15" y1="452.8" x2="838.55" y2="452.8" stroke="#1c1cdc" stroke-width="1.3" />
<line x1="826.15" y1="455.7" x2="838.55" y2="455.7" stroke="#1c1cdc" stroke-width="1.3" />
<text x="838.8" y="455.9" font-size="6.4" fill="#000000" stroke="#000000" stroke-width="0.07" class="s" text-anchor="start" >C5</text>
<text x="838.8" y="462.8" font-size="6.4" fill="#000000" stroke="#000000" stroke-width="0.07" class="s" text-anchor="start" >2.2µF</text>
<text x="838.8" y="469.7" font-size="6.4" fill="#000000" stroke="#000000" stroke-width="0.07" class="s" text-anchor="start" >25V</text>
<line x1="774.4" y1="516.4" x2="774.4" y2="523.4" stroke="#5a1420" stroke-width="1.0" />
<polyline points="767.0,523.4 781.8,523.4 774.4,530.8 767.0,523.4" stroke="#7a1212" stroke-width="1.0" fill="none" />
<text x="774.4" y="536.9" font-size="6.4" fill="#a02020" stroke="#a02020" stroke-width="0.07" class="s" text-anchor="middle" >GND</text>
<circle cx="112" cy="108.45" r="2.0" fill="#0c0a68"/>
<circle cx="155.75" cy="108.45" r="2.0" fill="#0c0a68"/>
<circle cx="177.5" cy="108.45" r="2.0" fill="#0c0a68"/>
<circle cx="206.5" cy="108.45" r="2.0" fill="#0c0a68"/>
<circle cx="323.2" cy="108.45" r="2.0" fill="#0c0a68"/>
<circle cx="330.5" cy="108.45" r="2.0" fill="#0c0a68"/>
<circle cx="468.5" cy="108.45" r="2.0" fill="#0c0a68"/>
<circle cx="512.5" cy="108.45" r="2.0" fill="#0c0a68"/>
<circle cx="614.25" cy="108.45" r="2.0" fill="#0c0a68"/>
<circle cx="657.7" cy="108.45" r="2.0" fill="#0c0a68"/>
<circle cx="687" cy="108.45" r="2.0" fill="#0c0a68"/>
<circle cx="708.8" cy="108.45" r="2.0" fill="#0c0a68"/>
<circle cx="112" cy="312.45" r="2.0" fill="#0c0a68"/>
<circle cx="155.75" cy="312.45" r="2.0" fill="#0c0a68"/>
<circle cx="206.5" cy="312.45" r="2.0" fill="#0c0a68"/>
<circle cx="235.8" cy="312.45" r="2.0" fill="#0c0a68"/>
<circle cx="476" cy="312.45" r="2.0" fill="#0c0a68"/>
<circle cx="614.25" cy="312.45" r="2.0" fill="#0c0a68"/>
<circle cx="657.7" cy="312.45" r="2.0" fill="#0c0a68"/>
<circle cx="708.8" cy="312.45" r="2.0" fill="#0c0a68"/>
<circle cx="745.4" cy="312.45" r="2.0" fill="#0c0a68"/>
<circle cx="330.5" cy="100.8" r="2.0" fill="#0c0a68"/>
<circle cx="381.4" cy="28.4" r="2.0" fill="#0c0a68"/>
<circle cx="323.2" cy="195.8" r="2.0" fill="#0c0a68"/>
<circle cx="359.5" cy="181.3" r="2.0" fill="#0c0a68"/>
<circle cx="291.9" cy="275.8" r="2.0" fill="#0c0a68"/>
<circle cx="548.6" cy="261.3" r="2.0" fill="#0c0a68"/>
<circle cx="730.4" cy="399.7" r="2.0" fill="#0c0a68"/>
<circle cx="832.6" cy="399.7" r="2.0" fill="#0c0a68"/>
<circle cx="774.5" cy="457.8" r="2.0" fill="#0c0a68"/>
<circle cx="774.5" cy="516.1" r="2.0" fill="#0c0a68"/>
<text x="5" y="212.6" font-size="9.05" fill="#e81c28" stroke="#e81c28" stroke-width="0.2" class="s" text-anchor="start" >Vin= 3.9V to 60V</text>
<text x="7.5" y="227.6" font-size="9.05" fill="#e81c28" stroke="#e81c28" stroke-width="0.2" class="s" text-anchor="start" >5A max Current</text>
<text x="779.5" y="212.6" font-size="9.05" fill="#e81c28" stroke="#e81c28" stroke-width="0.2" class="s" text-anchor="start" >Vout = 3.9V to 60V</text>
<text x="786.3" y="227.6" font-size="9.05" fill="#e81c28" stroke="#e81c28" stroke-width="0.2" class="s" text-anchor="start" >5A max Current</text>
</svg>
</body>
</html>
